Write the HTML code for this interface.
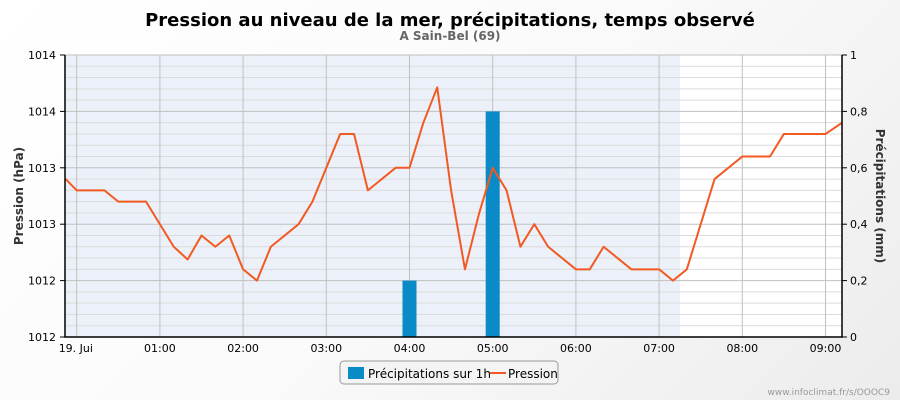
<!DOCTYPE html>
<html><head><meta charset="utf-8"><style>
body{margin:0;width:900px;height:400px;overflow:hidden;font-family:"Liberation Sans","DejaVu Sans",sans-serif;background:linear-gradient(135deg,#fff 0%,#fafafa 50%,#ececec 100%)}
svg{position:absolute;left:0;top:0}
</style></head><body>
<svg width="900" height="400" font-family="DejaVu Sans, Liberation Sans, sans-serif">
<text x="450" y="26" text-anchor="middle" font-size="18" font-weight="bold" fill="#000">Pression au niveau de la mer, précipitations, temps observé</text>
<text x="450" y="40" text-anchor="middle" font-size="12" font-weight="bold" fill="#666">A Sain-Bel (69)</text>
<rect x="65" y="55" width="777" height="282" fill="#fff"/>
<g id="bands"></g><g id="grid"></g><g id="bars"></g><g id="line"></g><g id="axes"></g>
<text transform="translate(23,196) rotate(-90)" text-anchor="middle" font-size="12" font-weight="bold" fill="#333">Pression (hPa)</text>
<text transform="translate(876,196) rotate(90)" text-anchor="middle" font-size="12" font-weight="bold" fill="#333">Précipitations (mm)</text>
<g>
<rect x="340" y="361" width="218" height="23" rx="4" fill="#f4f4f4" stroke="#999"/>
<g><rect x="348" y="367" width="16" height="12" fill="#0a8ac6"/><text x="368" y="378" font-size="12" fill="#000">Précipitations sur 1h</text></g>
<g><line x1="490" y1="373" x2="506" y2="373" stroke="#f15a22" stroke-width="2"/><text x="508" y="378" font-size="12" fill="#000">Pression</text></g>
</g>
<text x="890" y="395" text-anchor="end" font-size="9" fill="#999">www.infoclimat.fr/s/OOOC9</text>
</svg>
<script>
const xTickLabels=["19. Jui","01:00","02:00","03:00","04:00","05:00","06:00","07:00","08:00","09:00"];
const leftTickLabels=["1012","1012","1013","1013","1014","1014"];
const rightTickLabels=["0","0,2","0,4","0,6","0,8","1"];
const pTimes=[-8,0,20,30,50,70,80,90,100,110,120,130,140,160,170,190,200,210,230,240,250,260,270,280,290,300,310,320,330,340,360,370,380,400,420,430,440,460,480,500,510,540,552];
const pValues=[1013.12,1013.04,1013.04,1012.96,1012.96,1012.64,1012.55,1012.72,1012.64,1012.72,1012.48,1012.40,1012.64,1012.80,1012.96,1013.44,1013.44,1013.04,1013.20,1013.20,1013.52,1013.77,1013.04,1012.48,1012.87,1013.20,1013.04,1012.64,1012.80,1012.64,1012.48,1012.48,1012.64,1012.48,1012.48,1012.40,1012.48,1013.12,1013.28,1013.28,1013.44,1013.44,1013.52];
const rTimes=[240,300];
const rValues=[0.2,0.8];
const NS="http://www.w3.org/2000/svg";
const L=65,R=842,T=55,B=337;
const x=t=>76.7+t*83.2/60;
const yP=p=>B-(p-1012)/2*(B-T);
const yR=v=>B-v*(B-T);
function mk(tag,attrs,parent){const e=document.createElementNS(NS,tag);for(const k in attrs)e.setAttribute(k,attrs[k]);document.getElementById(parent).appendChild(e);return e;}
let band=mk('rect',{x:L,y:T,width:x(435)-L,height:B-T,fill:'#ecf0f8'},'bands');


for(let i=0;i<=25;i++){const yy=T+i*(B-T)/25;
let g=mk('line',{x1:L,x2:R,y1:yy,y2:yy,stroke:i%5==0?'#c0c0c0':'#dcdcdc','stroke-width':1},'grid');

}
xTickLabels.forEach((lab,i)=>{const xx=x(i*60);
let g=mk('line',{x1:xx,x2:xx,y1:T,y2:B,stroke:'#c0c0c0'},'grid');


let t=mk('text',{x:i==0?xx-18:xx,y:352,'font-size':11,'text-anchor':i==0?'start':'middle',fill:'#000'},'axes');t.textContent=lab;

});
rTimes.forEach((tm,i)=>{let b=mk('rect',{x:x(tm)-7,y:yR(rValues[i]),width:14,height:B-yR(rValues[i]),fill:'#0a8ac6'},'bars');

});
let pts=pTimes.map((t,i)=>x(t)+','+yP(pValues[i])).join(' ');
let pl=mk('polyline',{points:pts,fill:'none',stroke:'#f15a22','stroke-width':2,'stroke-linejoin':'round'},'line');


let ax=mk('path',{d:`M${L},${T}V${B}H${R}V${T}`,stroke:'#000','stroke-width':1.5,fill:'none'},'axes');


leftTickLabels.forEach((lab,i)=>{const yy=B-i*(B-T)/5;
mk('line',{x1:L-5,x2:L,y1:yy,y2:yy,stroke:'#000'},'axes');
let t=mk('text',{x:56,y:yy+4,'font-size':11,'text-anchor':'end',fill:'#000'},'axes');t.textContent=lab;

});
rightTickLabels.forEach((lab,i)=>{const yy=B-i*(B-T)/5;
mk('line',{x1:R,x2:R+5,y1:yy,y2:yy,stroke:'#000'},'axes');
let t=mk('text',{x:850,y:yy+4,'font-size':11,fill:'#000'},'axes');t.textContent=lab;

});
</script>
</body></html>
